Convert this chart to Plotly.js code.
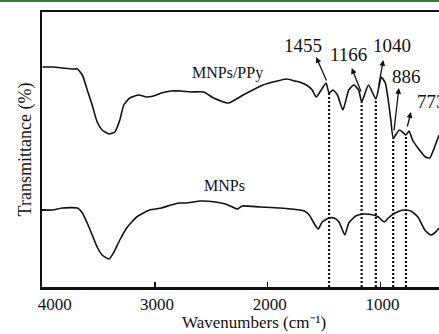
<!DOCTYPE html>
<html>
<head>
<meta charset="utf-8">
<script src="https://cdn.plot.ly/plotly-3.0.1.min.js"></script>
<style>
html,body{margin:0;padding:0;background:#fff;}
#wrap{position:relative;width:439px;height:334px;}
#chart{width:439px;height:334px;}
#bar{position:absolute;left:0;top:0;width:439px;height:2px;background:#3b7a3f;}
</style>
</head>
<body>
<div id="wrap"><div id="chart"></div><div id="bar"></div></div>
<script>
// MNPs/PPy spectrum (wavenumber, relative transmittance)
const ppyWn = [3995,3905,3817,3730,3686,3642,3599,3555,3511,3467,3406,3354,3310,3275,3222,3144,3074,3012,2942,2855,2767,2680,2566,2479,2347,2216,2041,1831,1761,1717,1656,1604,1569,1525,1481,1455,1420,1380,1332,1280,1236,1192,1166,1105,1040,991,956,930,905,886,830,773,745,715,667,600,562,519,480];
const ppyT  = [220,220,219,218,218,212,197,182,165,157,153,155,167,182,189,192,190,191,194,196,196,195,195,189,184,192,202,208,206,205,202,197,190,197,204,194,197,192,177,197,202,197,185,202,188,210,204,187,165,149,157,152,156,147,139,130,129,140,152];

// MNPs spectrum
const mnpWn = [3995,3905,3817,3686,3642,3599,3555,3511,3467,3406,3362,3310,3249,3161,3047,2942,2855,2785,2724,2592,2461,2374,2312,2269,2225,2067,1892,1717,1674,1630,1595,1551,1516,1455,1411,1367,1315,1280,1219,1149,1061,1017,965,930,869,799,729,667,606,554,519,480];
const mnpT  = [77,77,79,79,74,64,52,40,32,28,35,47,59,70,77,79,82,84,84,86,85,83,80,78,81,80,79,77,76,72,65,58,65,69,69,65,52,64,71,73,72,70,65,69,74,77,76,70,57,52,54,59];

// marked bands
const peakLabels = ['1455','1166','1040','886','773'];
const peakWn     = [1455,1166,1040,886,773];
const peakTop    = [194,185,188,149,152];
const arrowTailX = [1472,1166,1017,880,764];
const arrowTailY = [205,194,200,155,159];
const arrowHeadX = [1569,1254,974,836,729];
const arrowHeadY = [230,219,227,199,175];
const labelX     = [1682,1280,895,772,694];
const labelY     = [242,233,242,211,186];
const labelAnchor= ['center','center','center','center','left'];

const seriesNames = ['MNPs/PPy','MNPs'];
const seriesLabelX = [2352,2382];
const seriesLabelY = [214,102];

const xTicks = [4000,3000,2000,1000];
const xTickText = ['\u00A0\u00A0\u00A0\u00A0\u00A0\u00A04000','\u00A03000','\u00A02000','\u00A01000'];
const xTitle = 'Wavenumbers (cm\u207B\u00B9)';
const yTitle = 'Transmittance (%)';

const FONT = 'Liberation Serif, Times New Roman, serif';

const traces = [];
traces.push({x: ppyWn, y: ppyT, mode:'lines', line:{color:'#111', width:1.6, shape:'spline', smoothing:0.5}, hoverinfo:'skip'});
traces.push({x: mnpWn, y: mnpT, mode:'lines', line:{color:'#111', width:1.6, shape:'spline', smoothing:0.5}, hoverinfo:'skip'});
peakWn.forEach((w,i)=>{
  traces.push({x:[w,w], y:[0, peakTop[i]], mode:'lines', line:{color:'#111', width:2.2, dash:'2px,2px'}, hoverinfo:'skip'});
});

const annotations = [];
peakWn.forEach((w,i)=>{
  annotations.push({x: arrowHeadX[i], y: arrowHeadY[i], ax: arrowTailX[i], ay: arrowTailY[i],
    xref:'x', yref:'y', axref:'x', ayref:'y', text:'', showarrow:true,
    arrowhead:2, arrowsize:0.9, arrowwidth:1.3, arrowcolor:'#111', standoff:0, startstandoff:0});
  annotations.push({x: labelX[i], y: labelY[i], xref:'x', yref:'y', text: peakLabels[i], showarrow:false,
    xanchor: labelAnchor[i], yanchor:'middle', font:{family:FONT, size:19, color:'#111'}});
});
seriesNames.forEach((n,i)=>{
  annotations.push({x: seriesLabelX[i], y: seriesLabelY[i], xref:'x', yref:'y', text:n, showarrow:false,
    xanchor:'center', yanchor:'middle', font:{family:FONT, size:16, color:'#111'}});
});
// x-axis title placed at the bottom edge
annotations.push({x:0.534, y:-47/275, xref:'paper', yref:'paper', xanchor:'center', yanchor:'bottom',
  yshift:0, text:xTitle, showarrow:false, font:{family:FONT, size:17, color:'#111'}});

const layout = {
  width:439, height:334,
  margin:{l:42, r:0, t:12, b:47, pad:0},
  paper_bgcolor:'#fff', plot_bgcolor:'#fff',
  showlegend:false,
  font:{family:FONT, color:'#111'},
  xaxis:{
    range:[4000,480], showgrid:false, zeroline:false,
    showline:true, linecolor:'#111', linewidth:2.5, mirror:true,
    ticks:'inside', ticklen:5, tickwidth:1.5, tickcolor:'#111',
    tickvals:xTicks, ticktext:xTickText,
    tickfont:{family:FONT, size:17, color:'#111'}
  },
  yaxis:{
    range:[0,275], showgrid:false, zeroline:false,
    showline:true, linecolor:'#111', linewidth:1.8,
    ticks:'inside', ticklen:4, tickwidth:1.3, tickcolor:'#111',
    tickvals:[77], showticklabels:false,
    title:{text:yTitle, font:{family:FONT, size:18, color:'#111'}, standoff:4}
  },
  annotations: annotations
};

Plotly.newPlot('chart', traces, layout, {staticPlot:true, displayModeBar:false});
</script>
</body>
</html>
